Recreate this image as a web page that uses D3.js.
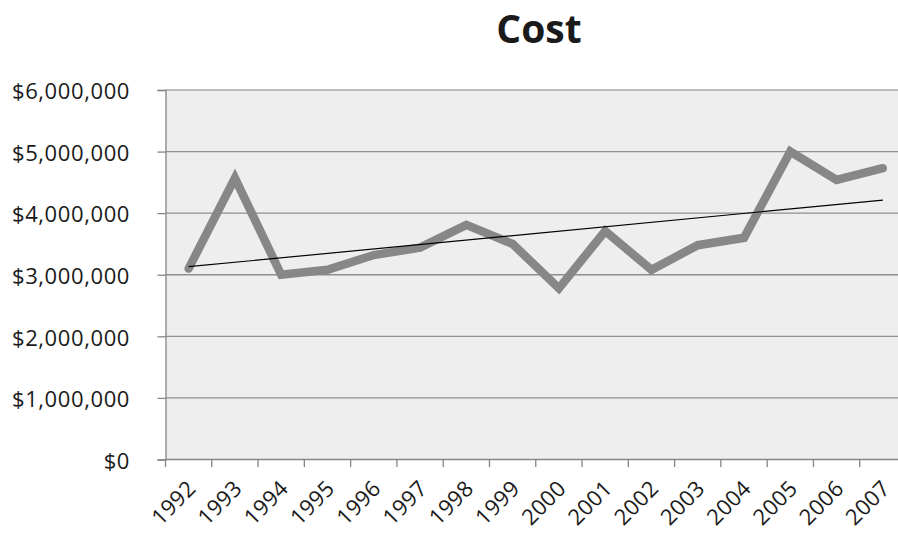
<!DOCTYPE html>
<html>
<head>
<meta charset="utf-8">
<script src="https://cdn.jsdelivr.net/npm/d3@7"></script>
<style>
  html, body { margin: 0; padding: 0; background: #fff; }
  svg { display: block; }
  text { font-family: "Open Sans", "Liberation Sans", sans-serif; fill: #1a1a1a; }
</style>
</head>
<body>
<svg id="chart" width="898" height="533"></svg>
<script>
// Annual cost, 1992–2007
const years = ["1992","1993","1994","1995","1996","1997","1998","1999",
               "2000","2001","2002","2003","2004","2005","2006","2007"];
const costs = [3100000, 4570000, 3000000, 3080000, 3320000, 3440000, 3810000, 3500000,
               2780000, 3710000, 3080000, 3480000, 3600000, 5000000, 4540000, 4730000];
const yTicks = [0, 1000000, 2000000, 3000000, 4000000, 5000000, 6000000];
const chartTitle = "Cost";

const svg = d3.select("#chart");
const margin = { left: 165.5, top: 90, right: 906, bottom: 459.5 };

const x = d3.scaleBand().domain(years).range([margin.left, margin.right]).padding(0);
const y = d3.scaleLinear().domain([0, 6000000]).range([margin.bottom, margin.top]);

const axisColor = "#868686";
const fmt = v => "$" + d3.format(",")(v);

// plot background
svg.append("rect")
  .attr("x", margin.left).attr("y", margin.top)
  .attr("width", margin.right - margin.left)
  .attr("height", margin.bottom - margin.top)
  .attr("fill", "#eeeeee");

// horizontal gridlines
svg.append("g").selectAll("line").data(yTicks.filter(d => d > 0)).join("line")
  .attr("x1", margin.left).attr("x2", margin.right)
  .attr("y1", d => y(d)).attr("y2", d => y(d))
  .attr("stroke", d => d === 6000000 ? "#a8a8a8" : "#8e8e8e")
  .attr("stroke-width", 1.3);

// y axis
const yAxis = svg.append("g")
  .attr("transform", `translate(${margin.left},0)`)
  .call(d3.axisLeft(y).tickValues(yTicks).tickFormat(fmt).tickSize(8).tickPadding(27.5));
yAxis.select(".domain").attr("stroke", axisColor).attr("stroke-width", 1.3);
yAxis.selectAll(".tick line").attr("stroke", axisColor).attr("stroke-width", 1.3);
yAxis.selectAll(".tick text")
  .attr("font-size", 22).attr("letter-spacing", 0.6).attr("dy", "0.4em")
  .style("font-family", "'Open Sans', sans-serif").attr("fill", "#1a1a1a");

// x axis: ticks at band boundaries
const xAxisG = svg.append("g").attr("transform", `translate(0,${margin.bottom})`);
xAxisG.append("line")
  .attr("x1", margin.left).attr("x2", margin.right)
  .attr("stroke", axisColor).attr("stroke-width", 1.3);
const boundaries = years.map(d => x(d)).concat([x(years[years.length - 1]) + x.bandwidth()]);
xAxisG.selectAll("line.tick").data(boundaries).join("line")
  .attr("class", "tick")
  .attr("x1", d => d).attr("x2", d => d)
  .attr("y1", 0).attr("y2", 7.5)
  .attr("stroke", axisColor).attr("stroke-width", 1.3);
xAxisG.selectAll("text").data(years).join("text")
  .attr("transform", d => `translate(${x(d) + x.bandwidth() / 2 + 3},${25}) rotate(-45)`)
  .attr("text-anchor", "end")
  .attr("dy", "0.35em")
  .attr("font-size", 22)
  .attr("letter-spacing", 0.3)
  .text(d => d);

// cost line
const pts = years.map((d, i) => ({ year: d, value: costs[i] }));
const line = d3.line()
  .x(d => x(d.year) + x.bandwidth() / 2)
  .y(d => y(d.value));
svg.append("path")
  .datum(pts)
  .attr("d", line)
  .attr("fill", "none")
  .attr("stroke", "#878787")
  .attr("stroke-width", 8.5)
  .attr("stroke-linejoin", "miter")
  .attr("stroke-linecap", "round");

// linear trend line (least squares)
const n = costs.length;
const mx = d3.mean(d3.range(n));
const my = d3.mean(costs);
const slope = d3.sum(costs, (v, i) => (i - mx) * (v - my)) /
              d3.sum(d3.range(n), i => (i - mx) * (i - mx));
const intercept = my - slope * mx;
const trend = [0, n - 1].map(i => ({ year: years[i], value: intercept + slope * i }));
svg.append("path")
  .datum(trend)
  .attr("d", line)
  .attr("fill", "none")
  .attr("stroke", "#000")
  .attr("stroke-width", 1.2);

// title
svg.append("text")
  .attr("x", 539).attr("y", 43)
  .attr("text-anchor", "middle")
  .attr("font-size", 39)
  .attr("font-weight", "bold")
  .attr("fill", "#000")
  .text(chartTitle);
</script>
</body>
</html>
